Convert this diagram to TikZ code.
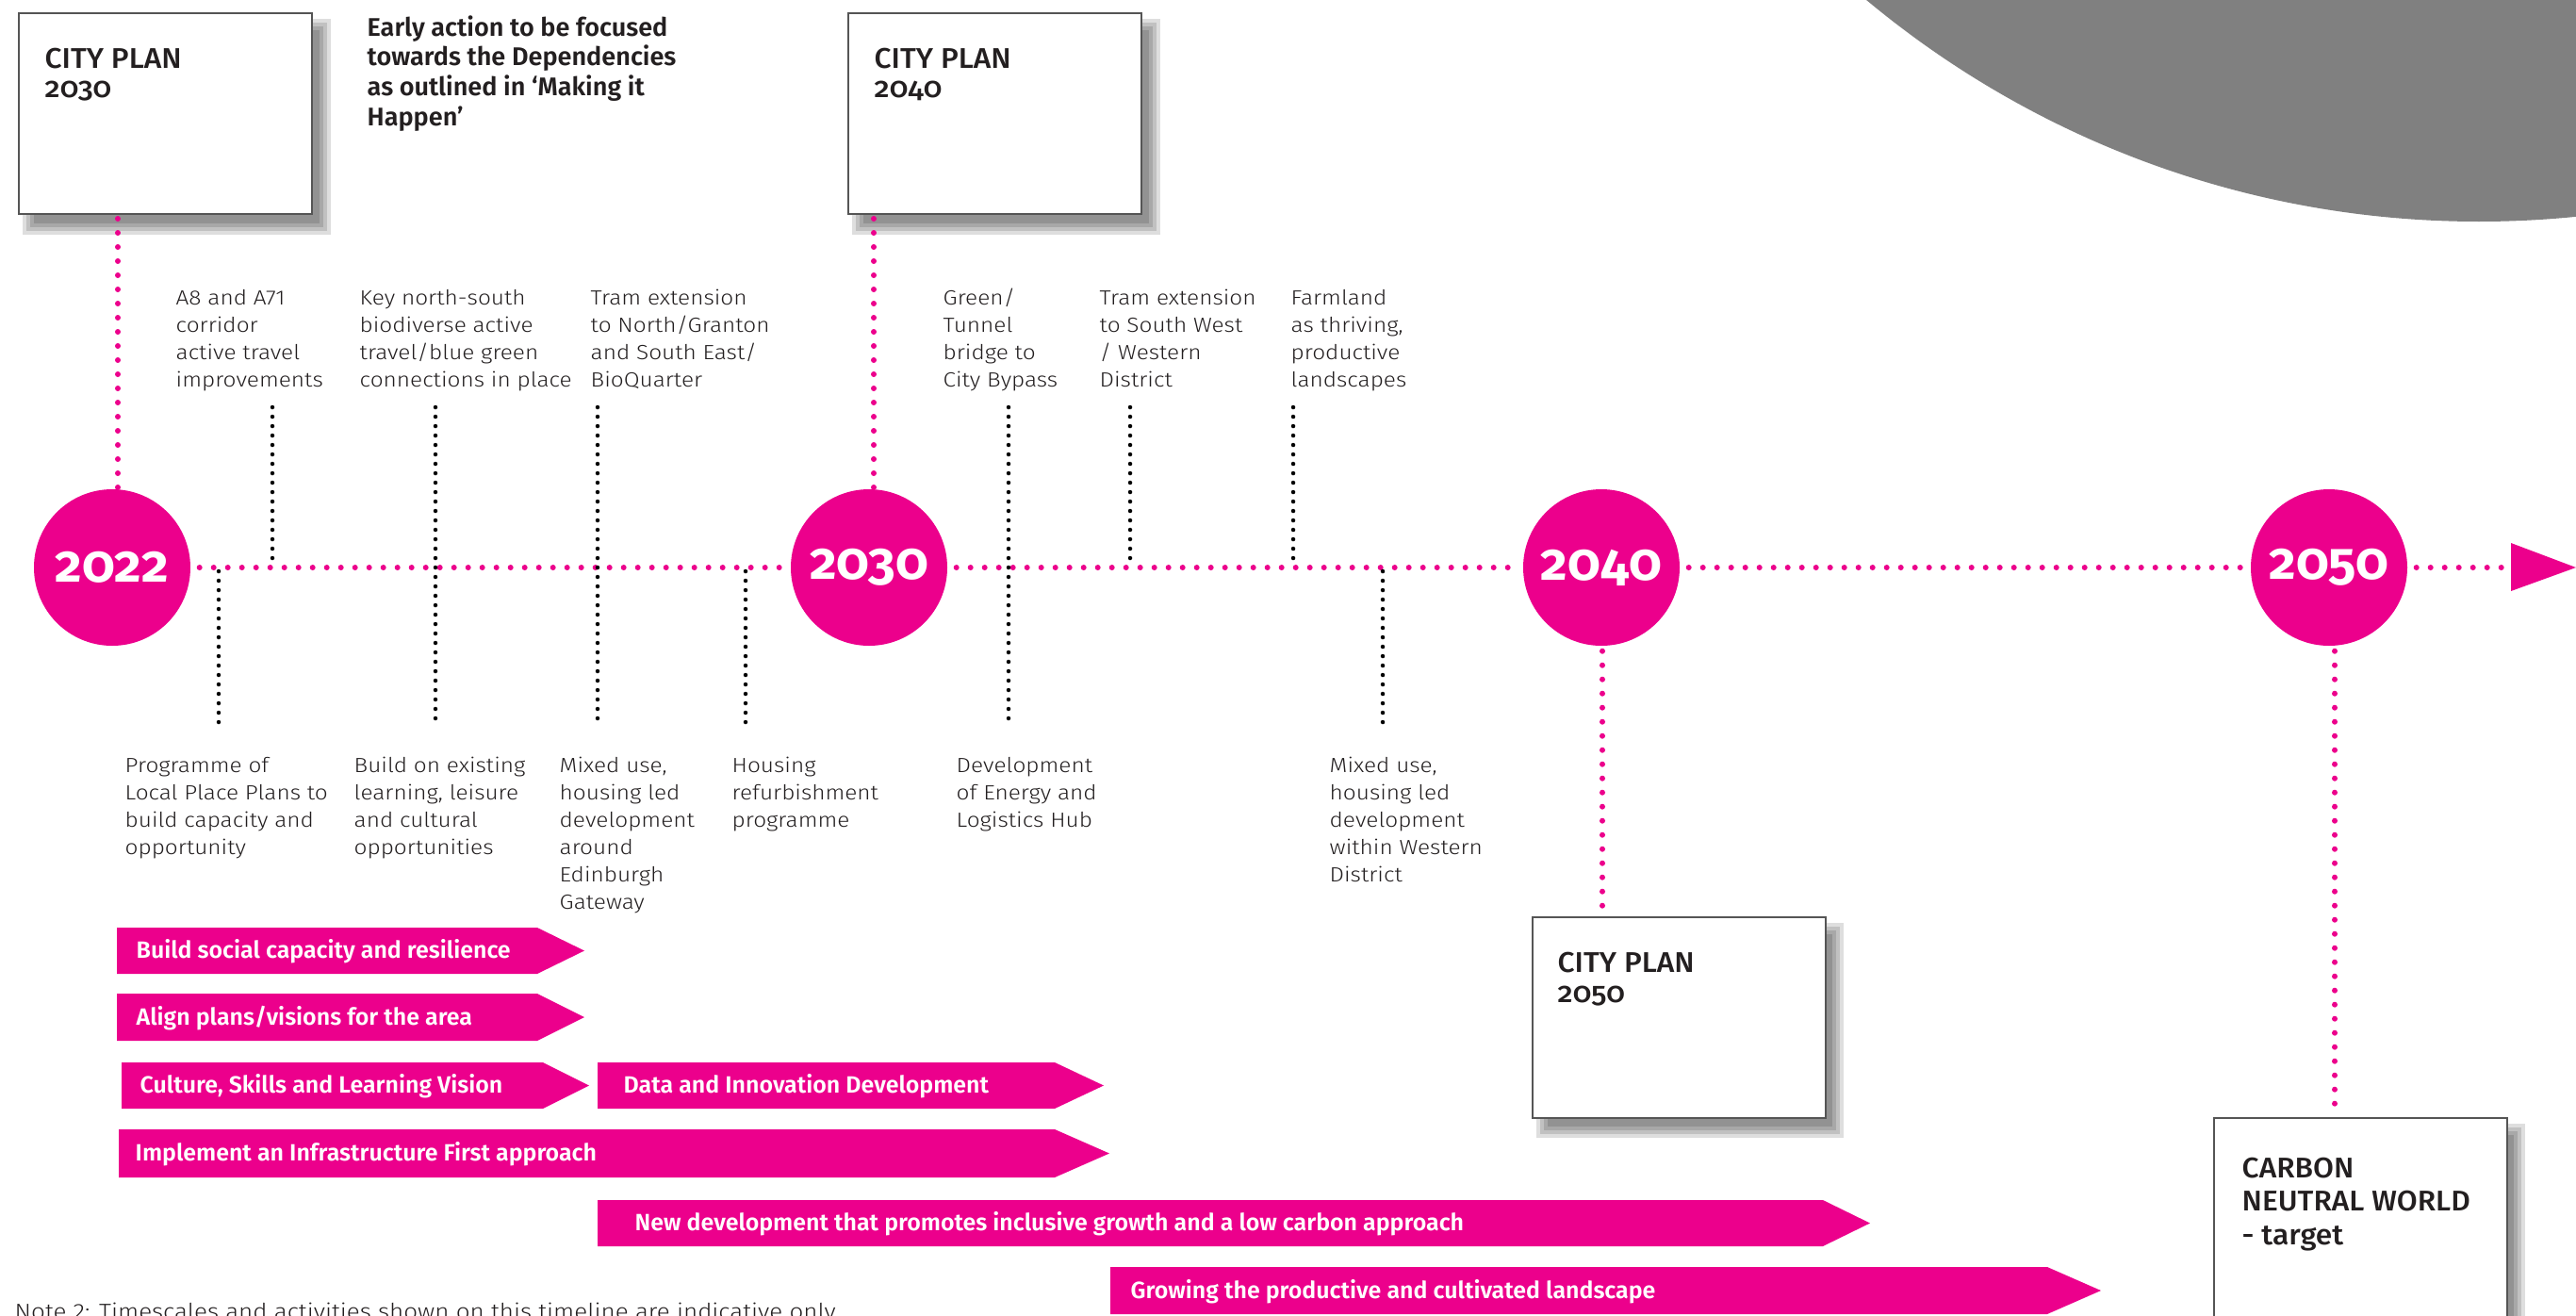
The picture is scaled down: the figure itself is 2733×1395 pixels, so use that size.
\documentclass[tikz,border=0pt]{standalone}
\usepackage{fontspec}
\setmainfont{Fira Sans}
\newfontfamily\bodyf{Fira Sans Light}[FakeStretch=1.12]
\newfontfamily\medf{Fira Sans Medium}[Numbers=OldStyle,FakeStretch=1.05]
\newfontfamily\semif{Fira Sans SemiBold}
\newfontfamily\boldf{Fira Sans Bold}[Numbers=OldStyle]
\definecolor{tpink}{RGB}{236,0,140}
\definecolor{midgrey}{RGB}{128,128,128}
\definecolor{tdark}{RGB}{35,31,32}
\definecolor{boxgrey}{RGB}{85,85,85}
\newcommand\tlpar[1]{\parbox[t]{60mm}{\raggedright #1}}
\newcommand\shadowat[4]{%
  \foreach \k in {-8,-4,0,4}{%
    \fill[black,opacity=0.13] (#1+12+\k,#2+14+\k) rectangle (#3+12-\k,#4+14-\k);}}
\begin{document}
\begin{tikzpicture}[x=0.1mm,y=-0.1mm,
  pinkdots/.style={line width=0.6mm, line cap=round, dash pattern=on 0pt off 1.5mm, draw=tpink},
  blackdots/.style={line width=0.45mm, line cap=round, dash pattern=on 0pt off 1mm, draw=black},
  yearc/.style={circle, fill=tpink, minimum size=16.6mm, inner sep=0pt, text=white,
    font=\boldf\fontsize{15.8}{15.8}\selectfont},
  planbox/.style={draw=boxgrey, line width=0.2mm, fill=white, inner sep=0pt,
    minimum width=31.1mm, minimum height=21.3mm},
  txt/.style={anchor=base west, inner sep=0pt, text=tdark},
  bodytxt/.style={txt, font=\bodyf\fontsize{6.2}{8.3}\selectfont},
  boxtxt/.style={txt, font=\medf\fontsize{8.6}{9.1}\selectfont},
  chevtxt/.style={anchor=base west, inner sep=0pt, text=white, font=\semif\fontsize{7.1}{7.5}\selectfont}
]
\useasboundingbox (0,0) rectangle (2733,1395);
% grey disc top right
\fill[midgrey] (2630,-781) circle (101.6mm);

% year circles
\node[yearc] (y2022) at (119,602) {2022};
\node[yearc] (y2030) at (922,602) {2030};
\node[yearc] (y2040) at (1699,602) {2040};
\node[yearc] (y2050) at (2471,602) {2050};
\coordinate (arrbase) at (2664,602);
\fill[tpink] (2664,576) -- (2733,602) -- (2664,627) -- cycle;

% timeline
\draw[pinkdots, shorten <=0.9mm, shorten >=0.9mm] (y2022.east) -- (y2030.west);
\draw[pinkdots, shorten <=0.9mm, shorten >=0.9mm] (y2030.east) -- (y2040.west);
\draw[pinkdots, shorten <=0.9mm, shorten >=0.9mm] (y2040.east) -- (y2050.west);
\draw[pinkdots, shorten <=0.9mm] (y2050.east) -- (arrbase);

% black dotted ticks
\foreach \x/\a/\b in {289/432/600, 1199/432/600, 1372/432/600,
                      462/432/767, 634/432/767, 1070/432/767,
                      232/606/767, 791/606/767, 1467/606/767}{
  \coordinate (tk\x a) at (\x,\a);
  \coordinate (tk\x b) at (\x,\b);
  \draw[blackdots] (tk\x a) -- (tk\x b);
}

% plan boxes
\shadowat{20}{14}{331}{227}
\node[planbox] (cp2030) at (175.5,120.5) {};
\shadowat{900}{14}{1211}{227}
\node[planbox] (cp2040) at (1055.5,120.5) {};
\shadowat{1626}{973}{1936}{1185}
\node[planbox] (cp2050) at (1781,1079) {};
\shadowat{2349}{1186}{2659}{1430}
\node[planbox, minimum height=24.4mm] (carbon) at (2504,1308) {};

% vertical pink connectors
\coordinate (vx1) at (125,0);
\coordinate (vx2) at (927,0);
\coordinate (vx3) at (1700,0);
\coordinate (vx4) at (2477,0);
\draw[pinkdots, shorten <=0.4mm] (cp2030.south -| vx1) -- (y2022.north -| vx1);
\draw[pinkdots, shorten <=0.4mm] (cp2040.south -| vx2) -- (y2030.north -| vx2);
\draw[pinkdots, shorten <=0.5mm] (y2040.south -| vx3) -- (cp2050.north -| vx3);
\draw[pinkdots, shorten <=0.5mm, shorten >=0.6mm] (y2050.south -| vx4) -- (carbon.north -| vx4);

% box texts
\node[boxtxt] (l2030) at (47,72) {\tlpar{CITY PLAN\\2030}};
\node[boxtxt] (l2040) at (927,72) {\tlpar{CITY PLAN\\2040}};
\node[boxtxt] (l2050) at (1652,1031) {\tlpar{CITY PLAN\\2050}};
\node[txt, font=\medf\fontsize{8.6}{10.2}\selectfont] (lcarbon) at (2378,1249) {\tlpar{CARBON\\NEUTRAL WORLD\\- target}};

% early action
\node[txt, font=\semif\fontsize{7.7}{9.1}\selectfont] (early) at (389,38)
  {\tlpar{Early action to be focused\\towards the Dependencies\\as outlined in ‘Making it\\Happen’}};

% top labels
\node[bodytxt] (t1) at (186,323) {\tlpar{A8 and A71\\corridor\\active travel\\improvements}};
\node[bodytxt] (t2) at (381,323) {\tlpar{Key north-south\\biodiverse active\\travel/blue green\\connections in place}};
\node[bodytxt] (t3) at (626,323) {\tlpar{Tram extension\\to North/Granton\\and South East/\\BioQuarter}};
\node[bodytxt] (t4) at (1000,323) {\tlpar{Green/\\Tunnel\\bridge to\\City Bypass}};
\node[bodytxt] (t5) at (1166,323) {\tlpar{Tram extension\\to South West\\/ Western\\District}};
\node[bodytxt] (t6) at (1369,323) {\tlpar{Farmland\\as thriving,\\productive\\landscapes}};

% bottom labels
\node[bodytxt] (b1) at (132,819) {\tlpar{Programme of\\Local Place Plans to\\build capacity and\\opportunity}};
\node[bodytxt] (b2) at (375,819) {\tlpar{Build on existing\\learning, leisure\\and cultural\\opportunities}};
\node[bodytxt] (b3) at (593,819) {\tlpar{Mixed use,\\housing led\\development\\around\\Edinburgh\\Gateway}};
\node[bodytxt] (b4) at (776,819) {\tlpar{Housing\\refurbishment\\programme}};
\node[bodytxt] (b5) at (1014,819) {\tlpar{Development\\of Energy and\\Logistics Hub}};
\node[bodytxt] (b6) at (1410,819) {\tlpar{Mixed use,\\housing led\\development\\within Western\\District}};

% chevrons
\foreach \n/\xa/\xb/\xt/\ya/\yb/\tx/\lab in {
  c1/124/570/620/984/1033/144/{Build social capacity and resilience},
  c2/124/570/620/1054/1104/144/{Align plans/visions for the area},
  c3/129/576/625/1127/1176/148/{Culture, Skills and Learning Vision},
  c4/634/1119/1171/1127/1176/661/{Data and Innovation Development},
  c5/126/1119/1177/1198/1249/143/{Implement an Infrastructure First approach},
  c6/634/1934/1984/1273/1322/673/{New development that promotes inclusive growth and a low carbon approach},
  c7/1178/2172/2229/1344/1394/1199/{Growing the productive and cultivated landscape}}{
  \fill[tpink] (\xa,\ya) -- (\xb,\ya) -- (\xt,{(\ya+\yb)/2}) -- (\xb,\yb) -- (\xa,\yb) -- cycle;
  \node[chevtxt] (\n) at (\tx,{(\ya+\yb)/2+8}) {\lab};
}

% note
\node[bodytxt, font=\bodyf\fontsize{6.6}{8}\selectfont] (note) at (15,1399)
  {Note 2: Timescales and activities shown on this timeline are indicative only};
\end{tikzpicture}
\end{document}
